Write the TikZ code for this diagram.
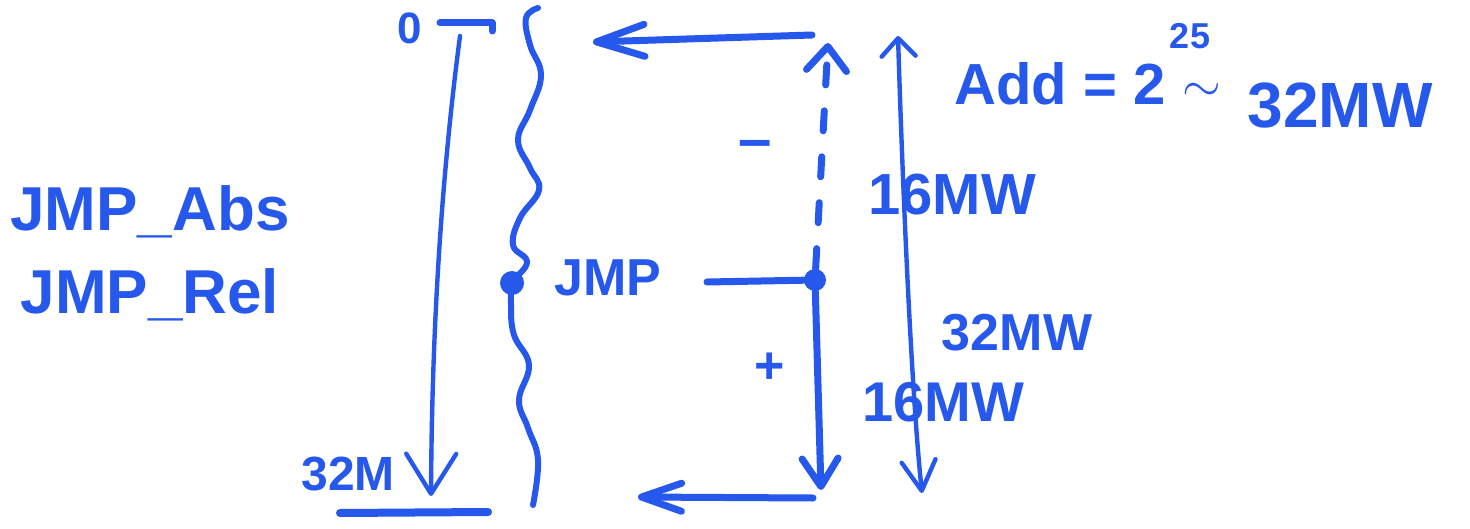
\documentclass[tikz,border=0pt]{standalone}
\usepackage{fontspec}
\setmainfont{Liberation Sans}
\usetikzlibrary{arrows.meta}
\definecolor{marker}{RGB}{38,88,235}
\begin{document}
\begin{tikzpicture}[x=0.5pt,y=-0.5pt,
  ink/.style={draw=marker,line width=3.5pt,line cap=round,line join=round},
  thin ink/.style={draw=marker,line width=2.2pt,line cap=round,line join=round},
  lbl/.style={text=marker,inner sep=0pt,font=\fontsize{#1}{#1}\selectfont\bfseries},
  barb/.style 2 args={-{Straight Barb[length=#1,width=#2,round]}},
  dot/.style={circle,fill=marker,inner sep=0pt,minimum size=11pt}]
\useasboundingbox (0,0) rectangle (1470,529);

% left-hand labels
\node[lbl=31] (abs) at (150,212) {JMP\_Abs};
\node[lbl=31] (rel) at (150,295) {JMP\_Rel};

% address range 0 .. 32M
\node[lbl=22] (zero) at (410,28) {0};
\node[lbl=24] (bot) at (348,474) {32M};
\coordinate (tick0a) at (440,23);
\coordinate (tick0b) at (492,23);
\draw[ink] (tick0a) -- (tick0b) -- ++(0,8);
\coordinate (rangetop) at (460,36);
\coordinate (rangebot) at (431,496);
\draw[thin ink,barb={20pt}{25pt}] (rangetop) .. controls (445,150) and (432,300) .. (rangebot);
\coordinate (base0) at (340,513);
\coordinate (base1) at (488,512);
\draw[ink,line width=4pt] (base0) -- (base1);

% code memory drawn as a wavy strip
\draw[ink,line width=3pt] plot[smooth,tension=0.7] coordinates {
  (538,8) (526,18) (530,45) (541,75) (530,110) (518,140) (530,168) (539,190)
  (520,218) (513,245) (527,262) (513,283) (511,305) (514,335) (529,365)
  (519,400) (528,428) (538,460) (533,505)};
\node[dot,minimum size=12pt] (jsrc) at (512,283) {};

% the jump and its reach
\node[lbl=26] (jmp) at (608,278) {JMP};
\coordinate (jline) at (707,282);
\node[dot] (jdot) at (815,280) {};
\draw[ink] (jline) -- (jdot);
\coordinate (dashtop) at (828,43);
\draw[ink,dash pattern=on 10pt off 13pt,-{Straight Barb[length=12pt,width=20pt,round]}] (jdot) -- (dashtop);
\coordinate (solidbot) at (821,490);
\draw[ink,barb={14pt}{18pt}] (jdot) -- (solidbot);
\node[lbl=30] (minus) at (755,150) {–};
\node[lbl=26] (plus) at (770,368) {+};

% back-arrows to the ends of the strip
\coordinate (topa) at (812,35);
\coordinate (topb) at (593,42);
\draw[ink,barb={24pt}{16pt}] (topa) -- (topb);
\coordinate (bota) at (813,498);
\coordinate (botb) at (638,497);
\draw[ink,barb={20pt}{14pt}] (bota) -- (botb);

% total reach of the offset
\coordinate (reachtop) at (898,36);
\coordinate (reachbot) at (922,493);
\draw[thin ink,{Straight Barb[length=9pt,width=17pt,round]}-{Straight Barb[length=15pt,width=17pt,round]}]
  (reachtop) .. controls (903,200) and (912,400) .. (reachbot);

% sizes
\node[lbl=29] (add) at (1060,84) {Add = 2};
\node[lbl=18] (exp) at (1190,36) {25};
\node[lbl=40] (tilde) at (1202,92) {$\sim$};
\node[lbl=32] (mw) at (1340,106) {32MW};
\node[lbl=29] (upper) at (952,195) {16MW};
\node[lbl=26] (mid) at (1017,333) {32MW};
\node[lbl=28] (lower) at (943,402) {16MW};
\end{tikzpicture}
\end{document}
